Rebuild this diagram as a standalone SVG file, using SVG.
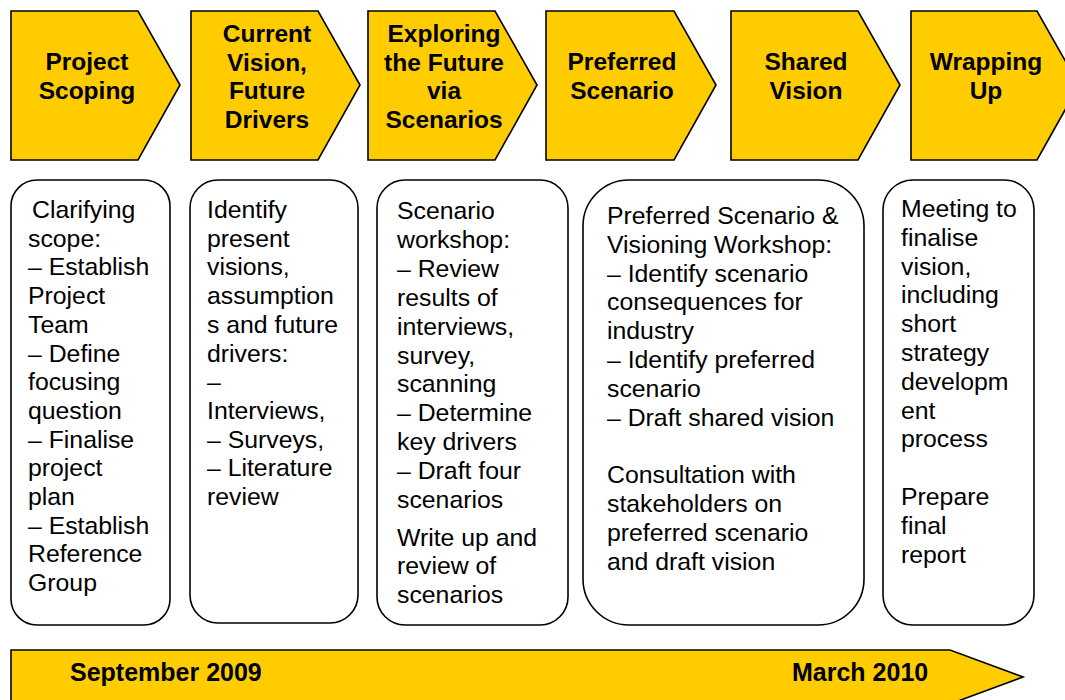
<svg xmlns="http://www.w3.org/2000/svg" width="1065" height="700" viewBox="0 0 1065 700">
<style>
.chev{fill:#FFCC00;stroke:#000;stroke-width:1.6;stroke-linejoin:miter}
.box{fill:#fff;stroke:#000;stroke-width:1.6}
.h{font-family:"Liberation Sans",Arial,sans-serif;font-weight:bold;font-size:24.5px;fill:#000;text-anchor:middle}
.b{font-family:"Liberation Sans",Arial,sans-serif;font-size:24.8px;fill:#000}
.t{font-family:"Liberation Sans",Arial,sans-serif;font-weight:bold;font-size:25px;fill:#000}
</style>
<rect width="1065" height="700" fill="#fff"/>
<g id="phase1">
<polygon class="chev" points="11,11 138,11 180,85 138,160 11,160"/>
<text class="h" x="87"><tspan x="87" y="70">Project</tspan><tspan x="87" y="99">Scoping</tspan></text>
</g>
<g id="phase2">
<polygon class="chev" points="191,11 318,11 360,85 318,160 191,160"/>
<text class="h"><tspan x="267" y="42">Current</tspan><tspan x="267" y="71">Vision,</tspan><tspan x="267" y="99">Future</tspan><tspan x="267" y="128">Drivers</tspan></text>
</g>
<g id="phase3">
<polygon class="chev" points="368,11 495,11 537,85 495,160 368,160"/>
<text class="h"><tspan x="444" y="42">Exploring</tspan><tspan x="444" y="71">the Future</tspan><tspan x="444" y="99">via</tspan><tspan x="444" y="128">Scenarios</tspan></text>
</g>
<g id="phase4">
<polygon class="chev" points="546,11 674,11 716,85 674,160 546,160"/>
<text class="h"><tspan x="622" y="70">Preferred</tspan><tspan x="622" y="99">Scenario</tspan></text>
</g>
<g id="phase5">
<polygon class="chev" points="731,11 858,11 900,85 858,160 731,160"/>
<text class="h"><tspan x="806" y="70">Shared</tspan><tspan x="806" y="99">Vision</tspan></text>
</g>
<g id="phase6">
<polygon class="chev" points="911,11 1037,11 1079,85 1037,160 911,160"/>
<text class="h"><tspan x="986" y="70">Wrapping</tspan><tspan x="986" y="99">Up</tspan></text>
</g>
<g id="box1">
<rect class="box" x="11" y="180" width="159" height="445" rx="26" ry="26"/>
<text class="b"><tspan x="32" y="218">Clarifying</tspan><tspan x="28" y="246.7">scope:</tspan><tspan x="28" y="275.4">– Establish</tspan><tspan x="28" y="304.1">Project</tspan><tspan x="28" y="332.8">Team</tspan><tspan x="28" y="361.5">– Define</tspan><tspan x="28" y="390.2">focusing</tspan><tspan x="28" y="418.9">question</tspan><tspan x="28" y="447.6">– Finalise</tspan><tspan x="28" y="476.3">project</tspan><tspan x="28" y="505">plan</tspan><tspan x="28" y="533.7">– Establish</tspan><tspan x="28" y="562.4">Reference</tspan><tspan x="28" y="591.1">Group</tspan></text>
</g>
<g id="box2">
<rect class="box" x="190" y="180" width="168" height="443" rx="28" ry="28"/>
<text class="b"><tspan x="207" y="218">Identify</tspan><tspan x="207" y="246.7">present</tspan><tspan x="207" y="275.4">visions,</tspan><tspan x="207" y="304.1">assumption</tspan><tspan x="207" y="332.8">s and future</tspan><tspan x="207" y="361.5">drivers:</tspan><tspan x="207" y="390.2">–</tspan><tspan x="207" y="418.9">Interviews,</tspan><tspan x="207" y="447.6">– Surveys,</tspan><tspan x="207" y="476.3">– Literature</tspan><tspan x="207" y="505">review</tspan></text>
</g>
<g id="box3">
<rect class="box" x="377" y="180" width="191" height="445" rx="28" ry="28"/>
<text class="b"><tspan x="397" y="219">Scenario</tspan><tspan x="397" y="247.9">workshop:</tspan><tspan x="397" y="276.8">– Review</tspan><tspan x="397" y="305.7">results of</tspan><tspan x="397" y="334.6">interviews,</tspan><tspan x="397" y="363.5">survey,</tspan><tspan x="397" y="392.4">scanning</tspan><tspan x="397" y="421.3">– Determine</tspan><tspan x="397" y="450.2">key drivers</tspan><tspan x="397" y="479.1">– Draft four</tspan><tspan x="397" y="508">scenarios</tspan><tspan x="397" y="545.5">Write up and</tspan><tspan x="397" y="574.4">review of</tspan><tspan x="397" y="603.3">scenarios</tspan></text>
</g>
<g id="box4">
<rect class="box" x="583" y="180" width="281" height="445" rx="46" ry="46"/>
<text class="b"><tspan x="607" y="224">Preferred Scenario &amp;</tspan><tspan x="607" y="252.8">Visioning Workshop:</tspan><tspan x="607" y="281.6">– Identify scenario</tspan><tspan x="607" y="310.4">consequences for</tspan><tspan x="607" y="339.2">industry</tspan><tspan x="607" y="368">– Identify preferred</tspan><tspan x="607" y="396.8">scenario</tspan><tspan x="607" y="425.6">– Draft shared vision</tspan><tspan x="607" y="483.2">Consultation with</tspan><tspan x="607" y="512">stakeholders on</tspan><tspan x="607" y="540.8">preferred scenario</tspan><tspan x="607" y="569.6">and draft vision</tspan></text>
</g>
<g id="box5">
<rect class="box" x="883" y="180" width="151" height="445" rx="30" ry="30"/>
<text class="b"><tspan x="901" y="217">Meeting to</tspan><tspan x="901" y="245.8">finalise</tspan><tspan x="901" y="274.6">vision,</tspan><tspan x="901" y="303.4">including</tspan><tspan x="901" y="332.2">short</tspan><tspan x="901" y="361">strategy</tspan><tspan x="901" y="389.8">developm</tspan><tspan x="901" y="418.6">ent</tspan><tspan x="901" y="447.4">process</tspan><tspan x="901" y="505">Prepare</tspan><tspan x="901" y="533.8">final</tspan><tspan x="901" y="562.6">report</tspan></text>
</g>
<g id="timeline">
<polygon class="chev" points="11,650 950,650 1023,677 950,704 11,704"/>
<text class="t" x="70" y="681">September 2009</text>
<text class="t" x="792" y="681">March 2010</text>
</g>
<g id="connectors"></g>
</svg>
